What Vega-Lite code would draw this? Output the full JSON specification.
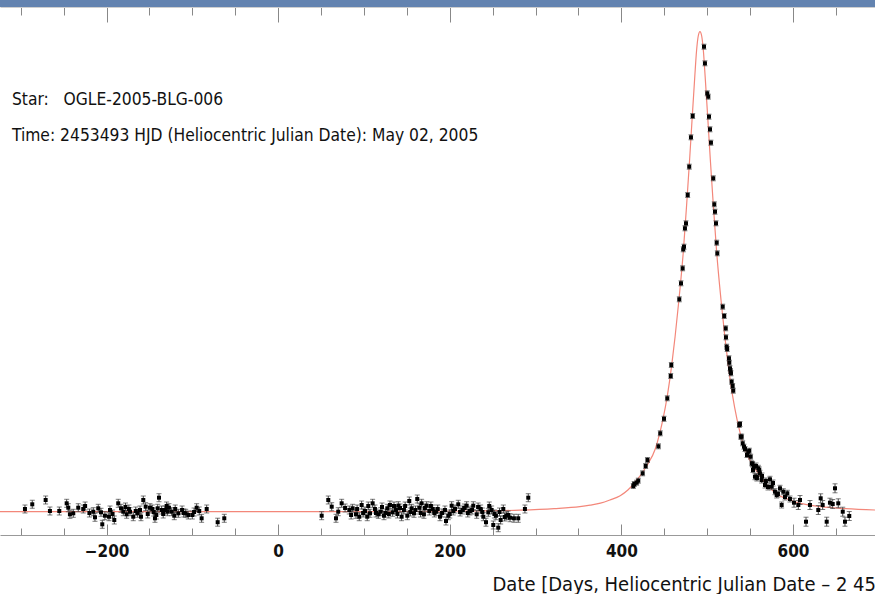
{
  "$schema": "https://vega.github.io/schema/vega-lite/v6.json",
  "width": 875,
  "height": 587,
  "autosize": {"type": "none"},
  "padding": {"left": 0, "top": 7, "right": 0, "bottom": 0},
  "background": "#6383b0",
  "config": {"view": {"fill": "white", "stroke": null}, "font": "DejaVu Sans Condensed, Liberation Sans"},
  "datasets": {
    "model": [
      {"day": -330, "flux": 2.33}, {"day": -8.4, "flux": 2.33}, {"day": 141.6, "flux": 2.35}, {"day": 231.6, "flux": 2.4},
      {"day": 281.6, "flux": 2.48}, {"day": 321.6, "flux": 2.63}, {"day": 351.6, "flux": 2.83}, {"day": 363.6, "flux": 2.98},
      {"day": 375.6, "flux": 3.18}, {"day": 386.6, "flux": 3.5}, {"day": 398.6, "flux": 3.93}, {"day": 407.6, "flux": 4.5},
      {"day": 415.6, "flux": 5.23}, {"day": 429.6, "flux": 6.93}, {"day": 439.6, "flux": 8.63},
      {"day": 444.6, "flux": 10.13}, {"day": 448.6, "flux": 11.63}, {"day": 453.6, "flux": 13.93}, {"day": 458.6, "flux": 16.93},
      {"day": 462.6, "flux": 19.83}, {"day": 467.1, "flux": 23.53}, {"day": 472.1, "flux": 28.23}, {"day": 476.2, "flux": 33.2},
      {"day": 479.6, "flux": 37.63}, {"day": 482.6, "flux": 41.83}, {"day": 485.6, "flux": 45.9}, {"day": 487.6, "flux": 48.4},
      {"day": 489.6, "flux": 49.9}, {"day": 491.6, "flux": 50.33}, {"day": 493.6, "flux": 49.9}, {"day": 495.6, "flux": 48.4},
      {"day": 497.6, "flux": 45.9}, {"day": 500.6, "flux": 41.83}, {"day": 503.6, "flux": 37.63}, {"day": 507.0, "flux": 33.2},
      {"day": 511.1, "flux": 28.23}, {"day": 516.1, "flux": 23.53}, {"day": 520.6, "flux": 19.83}, {"day": 524.6, "flux": 16.93},
      {"day": 529.6, "flux": 13.93}, {"day": 534.6, "flux": 11.63}, {"day": 538.6, "flux": 10.13}, {"day": 543.6, "flux": 8.63},
      {"day": 553.6, "flux": 6.93}, {"day": 567.6, "flux": 5.23}, {"day": 575.6, "flux": 4.5}, {"day": 584.6, "flux": 3.93},
      {"day": 596.6, "flux": 3.5}, {"day": 607.6, "flux": 3.18}, {"day": 619.6, "flux": 2.98},
      {"day": 631.6, "flux": 2.83}, {"day": 661.6, "flux": 2.63}, {"day": 701.6, "flux": 2.48}
    ],
    "obs": [
      {"day": -295.1, "flux": 2.6, "err": 0.4}, {"day": -286.6, "flux": 3.07, "err": 0.4}, {"day": -271.0, "flux": 3.5, "err": 0.4},
      {"day": -266.0, "flux": 2.4, "err": 0.4}, {"day": -255.1, "flux": 2.4, "err": 0.4}, {"day": -246.5, "flux": 3.17, "err": 0.4},
      {"day": -244.6, "flux": 2.73, "err": 0.4}, {"day": -242.7, "flux": 2.07, "err": 0.4}, {"day": -238.8, "flux": 2.17, "err": 0.4},
      {"day": -233.0, "flux": 2.73, "err": 0.4}, {"day": -227.2, "flux": 2.6, "err": 0.4}, {"day": -225.0, "flux": 2.9, "err": 0.4},
      {"day": -220.0, "flux": 2.2, "err": 0.4}, {"day": -215.5, "flux": 2.33, "err": 0.4}, {"day": -213.5, "flux": 1.77, "err": 0.4},
      {"day": -209.7, "flux": 2.67, "err": 0.4}, {"day": -206.5, "flux": 2.27, "err": 0.4}, {"day": -205.0, "flux": 1.07, "err": 0.4},
      {"day": -201.9, "flux": 1.93, "err": 0.4}, {"day": -197.2, "flux": 1.83, "err": 0.4}, {"day": -196.0, "flux": 2.5, "err": 0.4},
      {"day": -193.0, "flux": 2.1, "err": 0.4}, {"day": -191.0, "flux": 1.5, "err": 0.4}, {"day": -186.4, "flux": 3.17, "err": 0.4},
      {"day": -183.2, "flux": 2.67, "err": 0.4}, {"day": -180.5, "flux": 2.33, "err": 0.4}, {"day": -178.0, "flux": 2.8, "err": 0.4},
      {"day": -176.6, "flux": 2.07, "err": 0.4}, {"day": -174.0, "flux": 2.6, "err": 0.4}, {"day": -172.7, "flux": 2.33, "err": 0.4},
      {"day": -168.9, "flux": 1.83, "err": 0.4}, {"day": -166.0, "flux": 2.4, "err": 0.4}, {"day": -163.8, "flux": 2.17, "err": 0.4},
      {"day": -161.0, "flux": 2.5, "err": 0.4}, {"day": -159.9, "flux": 1.83, "err": 0.4}, {"day": -157.2, "flux": 3.5, "err": 0.4},
      {"day": -154.4, "flux": 2.83, "err": 0.4}, {"day": -152.0, "flux": 2.1, "err": 0.4}, {"day": -149.4, "flux": 2.73, "err": 0.4},
      {"day": -146.7, "flux": 2.6, "err": 0.4}, {"day": -145.0, "flux": 2.3, "err": 0.4}, {"day": -143.6, "flux": 1.67, "err": 0.4},
      {"day": -142.0, "flux": 2.0, "err": 0.4}, {"day": -140.4, "flux": 2.67, "err": 0.4}, {"day": -138.9, "flux": 3.73, "err": 0.4},
      {"day": -135.8, "flux": 2.5, "err": 0.4}, {"day": -134.0, "flux": 2.1, "err": 0.4}, {"day": -131.9, "flux": 2.5, "err": 0.4},
      {"day": -130.0, "flux": 2.9, "err": 0.4}, {"day": -128.8, "flux": 2.33, "err": 0.4}, {"day": -127.3, "flux": 2.73, "err": 0.4},
      {"day": -124.1, "flux": 2.33, "err": 0.4}, {"day": -121.1, "flux": 1.93, "err": 0.4}, {"day": -120.0, "flux": 2.6, "err": 0.4},
      {"day": -116.4, "flux": 2.17, "err": 0.4}, {"day": -112.0, "flux": 2.5, "err": 0.4}, {"day": -110.0, "flux": 2.2, "err": 0.4},
      {"day": -107.8, "flux": 2.17, "err": 0.4}, {"day": -104.8, "flux": 2.0, "err": 0.4}, {"day": -100.1, "flux": 2.0, "err": 0.4},
      {"day": -98.0, "flux": 2.3, "err": 0.4}, {"day": -95.0, "flux": 2.73, "err": 0.4}, {"day": -92.0, "flux": 2.4, "err": 0.4},
      {"day": -89.2, "flux": 1.67, "err": 0.4}, {"day": -83.3, "flux": 2.6, "err": 0.4}, {"day": -70.5, "flux": 1.28, "err": 0.4},
      {"day": -62.8, "flux": 1.67, "err": 0.4},
      {"day": 50.7, "flux": 1.93, "err": 0.4}, {"day": 58.4, "flux": 3.5, "err": 0.4}, {"day": 62.4, "flux": 2.83, "err": 0.4},
      {"day": 67.4, "flux": 1.67, "err": 0.4}, {"day": 70.0, "flux": 2.33, "err": 0.4}, {"day": 74.0, "flux": 3.17, "err": 0.4},
      {"day": 78.0, "flux": 2.7, "err": 0.4}, {"day": 82.9, "flux": 2.5, "err": 0.4}, {"day": 85.0, "flux": 2.0, "err": 0.4},
      {"day": 86.8, "flux": 2.67, "err": 0.4}, {"day": 90.7, "flux": 2.07, "err": 0.4}, {"day": 92.0, "flux": 2.6, "err": 0.4},
      {"day": 94.5, "flux": 1.83, "err": 0.4}, {"day": 97.3, "flux": 3.0, "err": 0.4}, {"day": 99.0, "flux": 2.2, "err": 0.4},
      {"day": 101.2, "flux": 2.4, "err": 0.4}, {"day": 103.8, "flux": 1.83, "err": 0.4}, {"day": 105.0, "flux": 2.9, "err": 0.4},
      {"day": 107.0, "flux": 2.17, "err": 0.4}, {"day": 110.1, "flux": 3.17, "err": 0.4}, {"day": 112.8, "flux": 2.6, "err": 0.4},
      {"day": 114.0, "flux": 2.2, "err": 0.4}, {"day": 116.7, "flux": 2.07, "err": 0.4}, {"day": 119.5, "flux": 2.33, "err": 0.4},
      {"day": 121.0, "flux": 2.8, "err": 0.4}, {"day": 123.3, "flux": 1.93, "err": 0.4}, {"day": 125.0, "flux": 2.2, "err": 0.4},
      {"day": 127.2, "flux": 2.67, "err": 0.4}, {"day": 129.0, "flux": 2.1, "err": 0.4}, {"day": 130.3, "flux": 3.0, "err": 0.4},
      {"day": 133.4, "flux": 2.27, "err": 0.4}, {"day": 135.0, "flux": 2.9, "err": 0.4}, {"day": 137.3, "flux": 2.5, "err": 0.4},
      {"day": 139.0, "flux": 2.1, "err": 0.4}, {"day": 140.0, "flux": 2.93, "err": 0.4}, {"day": 142.0, "flux": 2.7, "err": 0.4},
      {"day": 143.9, "flux": 1.83, "err": 0.4}, {"day": 146.6, "flux": 2.5, "err": 0.4}, {"day": 148.0, "flux": 2.9, "err": 0.4},
      {"day": 150.5, "flux": 1.93, "err": 0.4}, {"day": 152.8, "flux": 3.4, "err": 0.4}, {"day": 154.0, "flux": 2.3, "err": 0.4},
      {"day": 155.6, "flux": 2.67, "err": 0.4}, {"day": 158.3, "flux": 2.17, "err": 0.4}, {"day": 160.0, "flux": 2.5, "err": 0.4},
      {"day": 162.1, "flux": 3.6, "err": 0.4}, {"day": 164.5, "flux": 2.73, "err": 0.4}, {"day": 166.0, "flux": 2.2, "err": 0.4},
      {"day": 167.2, "flux": 3.17, "err": 0.4}, {"day": 169.9, "flux": 2.07, "err": 0.4}, {"day": 171.0, "flux": 2.7, "err": 0.4},
      {"day": 173.1, "flux": 2.93, "err": 0.4}, {"day": 176.1, "flux": 2.4, "err": 0.4}, {"day": 178.0, "flux": 2.9, "err": 0.4},
      {"day": 180.1, "flux": 2.6, "err": 0.4}, {"day": 182.0, "flux": 2.2, "err": 0.4}, {"day": 183.9, "flux": 2.33, "err": 0.4},
      {"day": 186.0, "flux": 2.6, "err": 0.4}, {"day": 188.6, "flux": 1.83, "err": 0.4}, {"day": 191.0, "flux": 2.2, "err": 0.4},
      {"day": 194.4, "flux": 2.5, "err": 0.4}, {"day": 195.6, "flux": 1.4, "err": 0.4}, {"day": 198.3, "flux": 1.93, "err": 0.4},
      {"day": 200.0, "flux": 2.1, "err": 0.4}, {"day": 202.2, "flux": 2.93, "err": 0.4}, {"day": 204.0, "flux": 2.4, "err": 0.4},
      {"day": 206.1, "flux": 2.6, "err": 0.4}, {"day": 209.9, "flux": 3.07, "err": 0.4}, {"day": 212.0, "flux": 2.3, "err": 0.4},
      {"day": 215.0, "flux": 2.5, "err": 0.4}, {"day": 217.0, "flux": 2.7, "err": 0.4}, {"day": 219.7, "flux": 2.93, "err": 0.4},
      {"day": 221.0, "flux": 2.2, "err": 0.4}, {"day": 223.5, "flux": 2.4, "err": 0.4}, {"day": 226.0, "flux": 2.5, "err": 0.4},
      {"day": 227.4, "flux": 2.93, "err": 0.4}, {"day": 231.4, "flux": 2.07, "err": 0.4}, {"day": 233.0, "flux": 2.8, "err": 0.4},
      {"day": 236.0, "flux": 2.6, "err": 0.4}, {"day": 238.0, "flux": 2.3, "err": 0.4}, {"day": 239.1, "flux": 1.83, "err": 0.4},
      {"day": 242.2, "flux": 1.28, "err": 0.4}, {"day": 244.9, "flux": 2.27, "err": 0.4}, {"day": 246.0, "flux": 2.9, "err": 0.4},
      {"day": 248.8, "flux": 2.5, "err": 0.4}, {"day": 250.7, "flux": 1.0, "err": 0.4}, {"day": 252.0, "flux": 2.1, "err": 0.4},
      {"day": 253.8, "flux": 1.93, "err": 0.4}, {"day": 256.5, "flux": 0.73, "err": 0.4}, {"day": 258.0, "flux": 2.3, "err": 0.4},
      {"day": 259.3, "flux": 1.5, "err": 0.4}, {"day": 262.4, "flux": 2.6, "err": 0.4}, {"day": 264.0, "flux": 1.8, "err": 0.4},
      {"day": 266.3, "flux": 1.93, "err": 0.4}, {"day": 268.0, "flux": 2.0, "err": 0.4}, {"day": 270.2, "flux": 1.73, "err": 0.4},
      {"day": 274.8, "flux": 1.67, "err": 0.4}, {"day": 279.8, "flux": 1.67, "err": 0.4}, {"day": 287.6, "flux": 2.6, "err": 0.4},
      {"day": 291.5, "flux": 3.73, "err": 0.4},
      {"day": 413.9, "flux": 4.9, "err": 0.25}, {"day": 415.0, "flux": 5.1, "err": 0.25}, {"day": 417.8, "flux": 5.23, "err": 0.25},
      {"day": 419.7, "flux": 5.43, "err": 0.25}, {"day": 424.8, "flux": 6.17, "err": 0.25}, {"day": 428.3, "flux": 6.9, "err": 0.25},
      {"day": 430.4, "flux": 7.5, "err": 0.25}, {"day": 443.2, "flux": 8.87, "err": 0.25}, {"day": 445.3, "flux": 10.17, "err": 0.25},
      {"day": 449.7, "flux": 11.62, "err": 0.25}, {"day": 453.5, "flux": 13.67, "err": 0.25}, {"day": 457.5, "flux": 15.9, "err": 0.25},
      {"day": 458.2, "flux": 17.0, "err": 0.25}, {"day": 467.5, "flux": 23.57, "err": 0.25}, {"day": 469.5, "flux": 25.17, "err": 0.25},
      {"day": 471.4, "flux": 26.67, "err": 0.25}, {"day": 472.1, "flux": 28.57, "err": 0.25}, {"day": 473.0, "flux": 28.83, "err": 0.25},
      {"day": 474.1, "flux": 30.67, "err": 0.25}, {"day": 475.3, "flux": 31.17, "err": 0.25}, {"day": 477.3, "flux": 34.0, "err": 0.25},
      {"day": 479.1, "flux": 36.83, "err": 0.25}, {"day": 481.1, "flux": 39.77, "err": 0.25}, {"day": 483.1, "flux": 41.9, "err": 0.25},
      {"day": 496.3, "flux": 48.83, "err": 0.25}, {"day": 497.4, "flux": 47.17, "err": 0.25}, {"day": 500.1, "flux": 44.17, "err": 0.25},
      {"day": 501.3, "flux": 43.83, "err": 0.25}, {"day": 502.1, "flux": 41.83, "err": 0.25}, {"day": 503.3, "flux": 40.57, "err": 0.25},
      {"day": 504.4, "flux": 39.23, "err": 0.25}, {"day": 507.1, "flux": 35.67, "err": 0.25}, {"day": 508.3, "flux": 33.07, "err": 0.25},
      {"day": 509.1, "flux": 32.33, "err": 0.25}, {"day": 510.3, "flux": 31.17, "err": 0.25}, {"day": 511.1, "flux": 29.23, "err": 0.25},
      {"day": 511.8, "flux": 28.17, "err": 0.25}, {"day": 518.1, "flux": 22.83, "err": 0.25}, {"day": 519.9, "flux": 21.9, "err": 0.25},
      {"day": 521.6, "flux": 20.67, "err": 0.25}, {"day": 521.9, "flux": 19.77, "err": 0.25}, {"day": 522.7, "flux": 18.83, "err": 0.25},
      {"day": 523.3, "flux": 18.6, "err": 0.25}, {"day": 525.4, "flux": 17.67, "err": 0.25}, {"day": 525.8, "flux": 17.23, "err": 0.25},
      {"day": 526.6, "flux": 16.67, "err": 0.25}, {"day": 527.2, "flux": 16.4, "err": 0.25}, {"day": 527.7, "flux": 16.17, "err": 0.25},
      {"day": 528.5, "flux": 15.33, "err": 0.25}, {"day": 529.7, "flux": 14.9, "err": 0.25}, {"day": 530.4, "flux": 14.43, "err": 0.25},
      {"day": 537.4, "flux": 11.0, "err": 0.25}, {"day": 538.2, "flux": 11.1, "err": 0.25}, {"day": 539.1, "flux": 9.83, "err": 0.25},
      {"day": 540.2, "flux": 9.83, "err": 0.25}, {"day": 541.4, "flux": 9.17, "err": 0.25}, {"day": 542.9, "flux": 8.83, "err": 0.25},
      {"day": 544.1, "flux": 8.6, "err": 0.25}, {"day": 546.4, "flux": 8.0, "err": 0.25}, {"day": 547.9, "flux": 8.33, "err": 0.25},
      {"day": 549.1, "flux": 8.43, "err": 0.25}, {"day": 550.7, "flux": 7.83, "err": 0.25}, {"day": 551.9, "flux": 7.17, "err": 0.25},
      {"day": 553.0, "flux": 7.1, "err": 0.25}, {"day": 553.4, "flux": 6.5, "err": 0.25}, {"day": 554.5, "flux": 6.83, "err": 0.25},
      {"day": 555.7, "flux": 5.83, "err": 0.3}, {"day": 556.9, "flux": 6.9, "err": 0.3}, {"day": 557.7, "flux": 5.83, "err": 0.3},
      {"day": 558.0, "flux": 5.7, "err": 0.3}, {"day": 559.6, "flux": 6.67, "err": 0.3}, {"day": 560.7, "flux": 6.5, "err": 0.3},
      {"day": 561.5, "flux": 6.17, "err": 0.3}, {"day": 563.5, "flux": 5.5, "err": 0.3}, {"day": 563.9, "flux": 5.9, "err": 0.3},
      {"day": 567.4, "flux": 5.0, "err": 0.3}, {"day": 568.5, "flux": 5.4, "err": 0.3}, {"day": 570.9, "flux": 4.8, "err": 0.3},
      {"day": 573.2, "flux": 5.57, "err": 0.3}, {"day": 575.2, "flux": 4.83, "err": 0.3}, {"day": 576.7, "flux": 5.2, "err": 0.3},
      {"day": 579.0, "flux": 4.33, "err": 0.3}, {"day": 581.0, "flux": 4.0, "err": 0.3}, {"day": 582.5, "flux": 4.1, "err": 0.3},
      {"day": 584.9, "flux": 4.67, "err": 0.3}, {"day": 586.8, "flux": 3.0, "err": 0.3}, {"day": 588.7, "flux": 4.33, "err": 0.3},
      {"day": 590.7, "flux": 3.8, "err": 0.3}, {"day": 593.4, "flux": 4.17, "err": 0.3}, {"day": 596.5, "flux": 3.6, "err": 0.3},
      {"day": 601.2, "flux": 3.23, "err": 0.45}, {"day": 606.2, "flux": 3.0, "err": 0.45}, {"day": 608.2, "flux": 3.5, "err": 0.45},
      {"day": 615.2, "flux": 1.33, "err": 0.45}, {"day": 619.8, "flux": 3.0, "err": 0.45}, {"day": 629.5, "flux": 2.5, "err": 0.45},
      {"day": 632.3, "flux": 3.67, "err": 0.45}, {"day": 634.6, "flux": 3.0, "err": 0.45}, {"day": 639.3, "flux": 1.33, "err": 0.45},
      {"day": 643.1, "flux": 3.23, "err": 0.45}, {"day": 646.3, "flux": 3.1, "err": 0.45}, {"day": 649.0, "flux": 4.67, "err": 0.45},
      {"day": 652.8, "flux": 3.17, "err": 0.45}, {"day": 658.0, "flux": 2.33, "err": 0.45}, {"day": 660.6, "flux": 1.33, "err": 0.45},
      {"day": 665.6, "flux": 1.9, "err": 0.45}
    ]
  },
  "layer": [
    {
      "data": {"name": "model"},
      "mark": {"type": "line", "color": "#f3877a", "strokeWidth": 1.2, "clip": true, "interpolate": "monotone"},
      "encoding": {
        "x": {
          "field": "day", "type": "quantitative",
          "scale": {"domain": [-324.2, 695.6], "nice": false, "zero": false},
          "axis": {
            "orient": "bottom", "offset": -59, "grid": false,
            "values": [-300, -250, -200, -150, -100, -50, 0, 50, 100, 150, 200, 250, 300, 350, 400, 450, 500, 550, 600, 650],
            "labelExpr": "datum.value % 200 === 0 ? datum.label : ''",
            "tickSize": {"condition": {"test": "datum.value % 200 === 0", "value": -11}, "value": -7},
            "tickColor": "#888", "domainColor": "#999",
            "labelFont": "DejaVu Sans Condensed, Liberation Sans", "labelFontWeight": "bold", "labelFontSize": 17, "labelColor": "#111",
            "labelBaseline": "top", "labelPadding": 19, "labelFlush": false, "labelOverlap": false,
            "title": "Date [Days, Heliocentric Julian Date – 2 453 000]",
            "titleFont": "DejaVu Sans Condensed, Liberation Sans", "titleFontSize": 20, "titleFontWeight": "normal", "titleColor": "#111",
            "titleAnchor": "start", "titleAlign": "left", "titleBaseline": "alphabetic", "titleX": 492, "titleY": 55
          }
        },
        "y": {"field": "flux", "type": "quantitative", "scale": {"domain": [-5.9, 52.8], "nice": false, "zero": false}, "axis": null}
      }
    },
    {
      "data": {"name": "obs"},
      "mark": {"type": "errorbar", "color": "#444", "thickness": 1, "ticks": {"size": 5, "color": "#444"}},
      "encoding": {
        "x": {"field": "day", "type": "quantitative", "axis": null},
        "y": {"field": "flux", "type": "quantitative", "axis": null},
        "yError": {"field": "err"}
      }
    },
    {
      "data": {"name": "obs"},
      "mark": {"type": "point", "shape": "square", "filled": true, "size": 16, "color": "#000", "opacity": 1},
      "encoding": {
        "x": {
          "field": "day", "type": "quantitative",
          "axis": {
            "orient": "top", "grid": false, "labels": false, "title": null,
            "values": [-300, -250, -200, -150, -100, -50, 0, 50, 100, 150, 200, 250, 300, 350, 400, 450, 500, 550, 600, 650],
            "tickSize": {"condition": {"test": "datum.value % 200 === 0", "value": -15}, "value": -8},
            "tickColor": "#888", "domainColor": "#cfcfcf"
          }
        },
        "y": {"field": "flux", "type": "quantitative", "axis": null}
      }
    },
    {
      "data": {"values": [{}]},
      "mark": {"type": "text", "align": "left", "baseline": "alphabetic", "font": "DejaVu Sans Condensed, Liberation Sans", "fontSize": 17.3, "color": "#111"},
      "encoding": {
        "x": {"datum": -310.3, "type": "quantitative", "axis": null},
        "y": {"datum": 43.0, "type": "quantitative", "axis": null},
        "text": {"value": "Star:\u00a0\u00a0\u00a0OGLE-2005-BLG-006"}
      }
    },
    {
      "data": {"values": [{}]},
      "mark": {"type": "text", "align": "left", "baseline": "alphabetic", "font": "DejaVu Sans Condensed, Liberation Sans", "fontSize": 17.3, "color": "#111"},
      "encoding": {
        "x": {"datum": -310.3, "type": "quantitative", "axis": null},
        "y": {"datum": 39.4, "type": "quantitative", "axis": null},
        "text": {"value": "Time: 2453493 HJD (Heliocentric Julian Date): May 02, 2005"}
      }
    }
  ],
  "resolve": {"axis": {"x": "independent"}}
}
